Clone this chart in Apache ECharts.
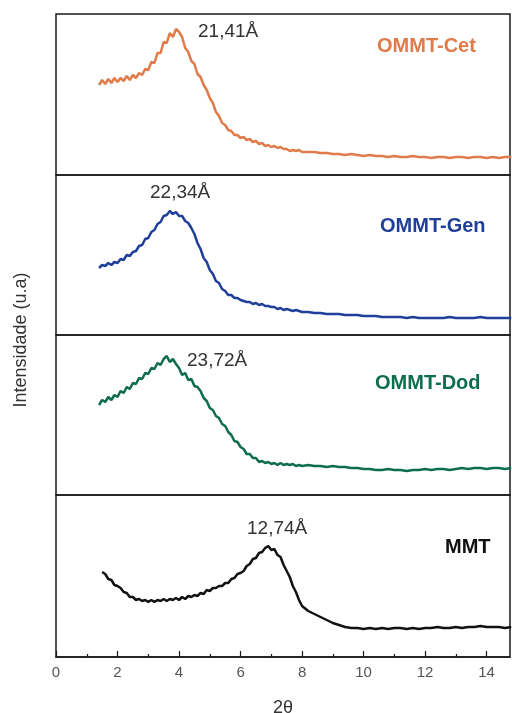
<!DOCTYPE html>
<html>
<head>
<meta charset="utf-8">
<script src="https://cdn.jsdelivr.net/npm/echarts@6/dist/echarts.min.js"></script>
<style>
  html, body { margin: 0; padding: 0; background: #fff; }
  #chart { width: 512px; height: 713px; }
</style>
</head>
<body>
<div id="chart"></div>
<script>
// ---------------------------------------------------
// Data (2theta scan, intensities in arbitrary units per panel)
// ---------------------------------------------------
const twoTheta = [
  1.4, 1.5, 1.6, 1.7, 1.8, 1.9, 2.0, 2.1, 2.2, 2.3, 2.4, 2.5, 2.6, 2.7, 2.8, 2.9,
  3.0, 3.1, 3.2, 3.3, 3.4, 3.5, 3.6, 3.7, 3.8, 3.9, 4.0, 4.1, 4.2, 4.3, 4.4, 4.5,
  4.6, 4.7, 4.8, 4.9, 5.0, 5.1, 5.2, 5.3, 5.4, 5.5, 5.6, 5.7, 5.8, 5.9, 6.0, 6.1,
  6.2, 6.3, 6.4, 6.5, 6.6, 6.7, 6.8, 6.9, 7.0, 7.1, 7.2, 7.3, 7.4, 7.5, 7.6, 7.7,
  7.8, 7.9, 8.0,
  8.2, 8.4, 8.6, 8.8, 9.0, 9.2, 9.4, 9.6, 9.8, 10.0,
  10.2, 10.4, 10.6, 10.8, 11.0, 11.2, 11.4, 11.6, 11.8, 12.0,
  12.2, 12.4, 12.6, 12.8, 13.0, 13.2, 13.4, 13.6, 13.8, 14.0,
  14.2, 14.4, 14.6, 14.8
];

const ommtCet = [
  90, 95, 91, 96, 92, 97, 93, 97, 94, 99, 95, 100, 97, 102, 100, 106,
  105, 113, 112, 122, 122, 133, 132, 142, 138, 146, 143, 138, 127, 123, 114, 111,
  101, 98, 90, 85, 77, 72, 63, 59, 52, 50, 45, 44, 40, 40, 37, 38,
  35, 36, 33, 34, 31, 32, 29, 30, 28, 29, 27, 28, 26, 26, 24, 25,
  24, 25, 23,
  23, 23, 22, 22, 21, 21, 20, 21, 20, 19,
  20, 19, 19, 18, 19, 18, 18, 19, 18, 18,
  17, 18, 18, 17, 18, 18, 17, 18, 18, 17,
  18, 17, 18, 18
];

const ommtGen = [
  67, 70, 69, 72, 70, 73, 72, 76, 75, 80, 79, 83, 84, 89, 90, 96,
  97, 103, 105, 111, 113, 119, 120, 124, 121, 123, 119, 119, 114, 112, 107, 101,
  92, 86, 77, 73, 65, 61, 54, 52, 46, 44, 40, 40, 37, 37, 35, 34,
  33, 33, 31, 32, 30, 31, 29, 29, 28, 28, 26, 27, 25, 26, 25, 24,
  25, 24, 23,
  23, 22, 22, 21, 21, 21, 20, 20, 20, 19,
  19, 19, 18, 18, 18, 18, 17, 18, 17, 17,
  17, 17, 17, 18, 17, 17, 17, 17, 18, 17,
  17, 17, 17, 17
];

const ommtDod = [
  90, 95, 93, 98, 95, 100, 98, 104, 102, 108, 106, 112, 111, 117, 116, 122,
  121, 127, 126, 132, 130, 136, 139, 133, 136, 131, 127, 120, 122, 115, 116, 109,
  108, 104, 97, 94, 87, 85, 79, 77, 71, 69, 63, 60, 54, 53, 48, 46,
  41, 41, 37, 37, 33, 34, 32, 33, 31, 32, 30, 32, 30, 31, 30, 31,
  29, 30, 29,
  30, 29, 29, 28, 29, 28, 28, 27, 27, 26,
  26, 25, 25, 26, 25, 25, 24, 25, 25, 26,
  25, 26, 26, 25, 26, 27, 26, 27, 27, 26,
  27, 27, 26, 27
];

const mmt = [
  null, 85, 83, 78, 77, 72, 71, 69, 65, 64, 60, 60, 57, 58, 56, 57,
  55, 57, 55, 57, 56, 58, 56, 58, 57, 59, 57, 60, 58, 61, 60, 62,
  61, 64, 63, 67, 66, 69, 69, 71, 71, 74, 74, 78, 79, 83, 84, 86,
  91, 93, 98, 99, 104, 105, 109, 111, 107, 108, 102, 100, 92, 86, 80, 71,
  65, 57, 51,
  46, 43, 40, 37, 34, 32, 30, 29, 29, 28,
  29, 28, 29, 28, 29, 29, 28, 29, 28, 29,
  29, 30, 29, 29, 30, 29, 30, 30, 31, 30,
  30, 30, 29, 30
];

const panelNames = ["OMMT-Cet", "OMMT-Gen", "OMMT-Dod", "MMT"];
const peakLabels = ["21,41Å", "22,34Å", "23,72Å", "12,74Å"];
const panelColors = ["#e07b4c", "#1f3f98", "#0e6e4c", "#111111"];
const xTicks = [0, 2, 4, 6, 8, 10, 12, 14];

// ---------------------------------------------------
// Layout
// ---------------------------------------------------
const panelTops = [14, 175, 335, 495];
const panelHeights = [161, 160, 160, 162];
const PLOT_LEFT = 56;
const PLOT_WIDTH = 454;
const X_MAX = 14.76;   // image is cropped a bit before 15

const seriesValues = [ommtCet, ommtGen, ommtDod, mmt];

const grids = panelTops.map((top, i) => ({
  left: PLOT_LEFT,
  top: top,
  width: PLOT_WIDTH,
  height: panelHeights[i],
  outerBoundsMode: "none",
  show: true,
  borderColor: "#1a1a1a",
  borderWidth: 1.5,
  backgroundColor: "transparent"
}));

const xAxes = panelTops.map((_, i) => {
  const isBottom = i === panelTops.length - 1;
  return {
    type: "value",
    gridIndex: i,
    min: 0,
    max: X_MAX,
    interval: 2,
    splitLine: { show: false },
    axisLine: { show: isBottom, lineStyle: { color: "#1a1a1a", width: 1.5 } },
    axisTick: {
      show: isBottom,
      inside: true,
      length: 6,
      lineStyle: { color: "#1a1a1a", width: 1.2 },
      customValues: xTicks
    },
    minorTick: {
      show: isBottom,
      splitNumber: 2,
      length: 3,
      lineStyle: { color: "#1a1a1a", width: 1.2 }
    },
    axisLabel: {
      show: isBottom,
      margin: 8,
      fontSize: 15,
      color: "#555",
      fontFamily: "Liberation Sans, Arial, sans-serif",
      customValues: xTicks
    },
    name: isBottom ? "2θ" : "",
    nameLocation: "middle",
    nameGap: 42,
    nameTextStyle: {
      fontSize: 18,
      color: "#333",
      fontFamily: "Liberation Sans, Arial, sans-serif"
    }
  };
});

const yAxes = panelTops.map((_, i) => ({
  type: "value",
  gridIndex: i,
  min: 0,
  max: panelHeights[i],
  show: false
}));

const series = seriesValues.map((vals, i) => ({
  name: panelNames[i],
  type: "line",
  xAxisIndex: i,
  yAxisIndex: i,
  data: twoTheta.map((x, k) => [x, vals[k]]),
  showSymbol: false,
  connectNulls: false,
  lineStyle: { color: panelColors[i], width: 2.5 },
  animation: false
}));

// text annotations (peak d-spacing and sample names)
const textFont = "Liberation Sans, Arial, sans-serif";
const peakPos = [[198, 33], [150, 194], [187, 362], [247, 530]];
const namePos = [[377, 47], [380, 227], [375, 384], [445, 548]];

const graphics = [];
peakLabels.forEach((t, i) => {
  graphics.push({
    type: "text",
    left: peakPos[i][0],
    top: peakPos[i][1] - 11,
    style: { text: t, fill: "#333", font: `19px ${textFont}` }
  });
});
panelNames.forEach((t, i) => {
  graphics.push({
    type: "text",
    left: namePos[i][0],
    top: namePos[i][1] - 11,
    style: {
      text: t,
      fill: panelColors[i],
      font: `bold 20px ${textFont}`
    }
  });
});
graphics.push({
  type: "text",
  x: 21,
  y: 340,
  rotation: Math.PI / 2,
  style: {
    text: "Intensidade (u.a)",
    fill: "#333",
    font: `18px ${textFont}`,
    align: "center",
    verticalAlign: "middle"
  }
});

// ---------------------------------------------------
// Chart
// ---------------------------------------------------
const chart = echarts.init(document.getElementById("chart"));
chart.setOption({
  animation: false,
  backgroundColor: "#fff",
  grid: grids,
  xAxis: xAxes,
  yAxis: yAxes,
  series: series,
  graphic: graphics
});
</script>
</body>
</html>
